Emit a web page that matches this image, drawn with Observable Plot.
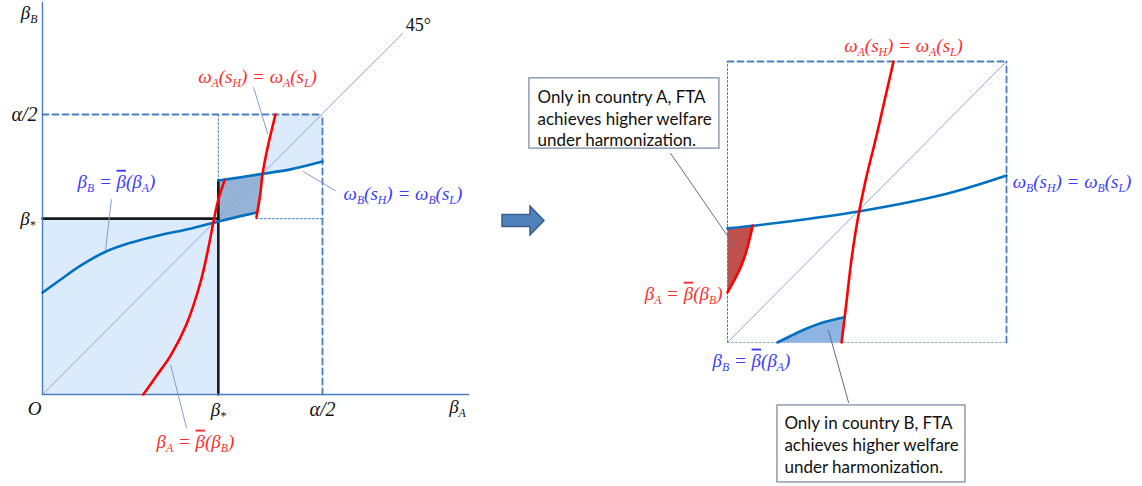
<!DOCTYPE html>
<html>
<head>
<meta charset="utf-8">
<script src="https://cdn.jsdelivr.net/npm/d3@7"></script>
<script src="https://cdn.jsdelivr.net/npm/@observablehq/plot@0.6"></script>
<style>
  html, body { margin: 0; padding: 0; background: #fff; }
  #stage { position: relative; width: 1142px; height: 486px; overflow: hidden; background: #fff; }
  #stage > svg.panel { position: absolute; top: 0; margin: 0; }
  #stage > svg.arrow { position: absolute; left: 500px; top: 204px; width: 46px; height: 33px; }
</style>
</head>
<body>
<div id="stage"></div>
<script>
// ---- Parameters (units: α = 1) ----
const alphaHalf = 0.5;
const betaStar = 0.314;

// ---- Full diagram: curves as [βA, βB] points ----
// βB = β̄(βA)
const bbarOfA = [[0, 0.182], [0.032, 0.205], [0.068, 0.230], [0.1125, 0.255], [0.157, 0.271], [0.211, 0.285], [0.264, 0.296], [0.314, 0.309], [0.382, 0.325]];
// βA = β̄(βB)
const bbarOfB = [[0.180, 0], [0.204, 0.034], [0.229, 0.070], [0.257, 0.125], [0.282, 0.200], [0.296, 0.261], [0.305, 0.307], [0.314, 0.348], [0.325, 0.382]];
// ωA(sH) = ωA(sL)
const omegaA = [[0.382, 0.316], [0.389, 0.359], [0.393, 0.394], [0.402, 0.441], [0.416, 0.5]];
// ωB(sH) = ωB(sL)
const omegaB = [[0.314, 0.382], [0.354, 0.388], [0.393, 0.394], [0.443, 0.402], [0.5, 0.416]];
// shaded regions
const darkRegion = [[0.314, 0.309], [0.314, 0.382], [0.354, 0.388], [0.393, 0.394], [0.389, 0.359], [0.383, 0.325], [0.341, 0.316]];
const upperRegion = [[0.393, 0.394], [0.402, 0.441], [0.416, 0.5], [0.5, 0.5], [0.5, 0.416], [0.443, 0.402]];

// ---- Enlarged box [β*, α/2]², normalised to [0, 1] ----
const zOmegaA = [[0.409, 0], [0.427, 0.149], [0.444, 0.292], [0.466, 0.434], [0.495, 0.577], [0.530, 0.719], [0.563, 0.861], [0.595, 1]];
const zOmegaB = [[0, 0.406], [0.190, 0.427], [0.470, 0.466], [0.789, 0.530], [1, 0.594]];
const zBbarOfB = [[0.090, 0.416], [0.080, 0.372], [0.066, 0.320], [0.047, 0.267], [0, 0.178]];
const zBbarOfA = [[0.179, 0], [0.226, 0.023], [0.280, 0.048], [0.341, 0.071], [0.420, 0.090]];
const zRegionA = [[0, 0.406], [0.090, 0.416], [0.080, 0.372], [0.066, 0.320], [0.047, 0.267], [0, 0.178]];
const zRegionB = [[0.179, 0], [0.226, 0.023], [0.280, 0.048], [0.341, 0.071], [0.420, 0.090], [0.409, 0]];

const calloutA = "Only in country A, FTA\nachieves higher welfare\nunder harmonization.";
const calloutB = "Only in country B, FTA\nachieves higher welfare\nunder harmonization.";

// ---- Styles ----
const RED = "#ff0000", BLUE = "#0070c0";
const RED_TXT = "#ff2d2d", BLUE_TXT = "#3b3bff";
const AXIS = "#4a7ebb", DIAG = "#8eaadb", LEADER = "#7f9fcf", LEADER2 = "#5b7090";
const LIGHT = "#dcebfb", DARK = "#95b3d7", REDFILL = "#c0504d", BLUEFILL = "#8db4e3";
const SERIF = "'Liberation Serif', 'Times New Roman', 'DejaVu Serif', serif";
const SANS = "Lato, 'Open Sans', sans-serif";
const MATH = 19;

const X = d => d[0], Y = d => d[1];
const curve = (data, stroke, w = 2.6) => Plot.line(data, {x: X, y: Y, stroke, strokeWidth: w, curve: "catmull-rom"});
const region = (data, fill) => Plot.line(data, {x: X, y: Y, fill, stroke: "none"});
const seg = (p, q, o) => Plot.line([p, q], {x: X, y: Y, ...o});
const label = (x, y, text, o = {}) => Plot.text([text], {x: () => x, y: () => y, text: d => d, fontFamily: SERIF, fontStyle: "italic", fontSize: MATH, ...o});

// Math labels: serif font, "_X" becomes a subscript, "β̄" gets an overbar
function typeset(svg, fs) {
  const ns = "http://www.w3.org/2000/svg";
  const shift = fs * 0.24;
  d3.select(svg).selectAll("text").each(function () {
    if (this.textContent.includes("country")) {
      this.style.fontFamily = SANS;
      return;
    }
    this.style.fontFamily = SERIF;
    if (this.querySelector("tspan")) return;
    const s = this.textContent;
    if (!/[_\u0304]/.test(s)) return;
    const re = /_(.)|(.)\u0304/g;
    const toks = [];
    let last = 0, m;
    while ((m = re.exec(s))) {
      if (m.index > last) toks.push({t: s.slice(last, m.index)});
      if (m[1] !== undefined) toks.push({t: m[1], sub: true});
      else toks.push({t: m[2], bar: true});
      last = re.lastIndex;
    }
    if (last < s.length) toks.push({t: s.slice(last)});
    this.textContent = "";
    let shifted = false;
    for (const k of toks) {
      const ts = document.createElementNS(ns, "tspan");
      ts.textContent = k.t;
      if (k.sub) {
        ts.setAttribute("font-size", fs * 0.62);
        ts.setAttribute("dy", shift);
        shifted = true;
      } else if (shifted) {
        ts.setAttribute("dy", -shift);
        shifted = false;
      }
      if (k.bar) ts.style.textDecoration = "overline";
      this.appendChild(ts);
    }
  });
  svg.classList.add("panel");
  return svg;
}

// ---- Left: full diagram ----
const left = Plot.plot({
  width: 480, height: 486,
  marginLeft: 42, marginRight: 18, marginTop: 2, marginBottom: 92,
  x: {domain: [0, 0.75], axis: null},
  y: {domain: [0, 0.7], axis: null},
  style: {background: "transparent", overflow: "visible"},
  marks: [
    Plot.rect([{x1: 0, x2: betaStar, y1: 0, y2: betaStar}], {x1: "x1", x2: "x2", y1: "y1", y2: "y2", fill: LIGHT}),
    region(upperRegion, LIGHT),
    region(darkRegion, DARK),
    seg([0, 0], [0.643, 0.645], {stroke: DIAG, strokeWidth: 1}),
    // α/2 box
    seg([0, alphaHalf], [alphaHalf, alphaHalf], {stroke: AXIS, strokeWidth: 1.8, strokeDasharray: "6,4"}),
    seg([alphaHalf, 0], [alphaHalf, alphaHalf], {stroke: AXIS, strokeWidth: 1.8, strokeDasharray: "6,4"}),
    seg([betaStar, 0.382], [betaStar, alphaHalf], {stroke: AXIS, strokeWidth: 1, strokeDasharray: "2,2"}),
    seg([0.382, betaStar], [alphaHalf, betaStar], {stroke: AXIS, strokeWidth: 1, strokeDasharray: "2,2"}),
    // β* lines
    seg([0, betaStar], [betaStar, betaStar], {stroke: "#1a1a1a", strokeWidth: 2.6}),
    seg([betaStar, 0], [betaStar, 0.382], {stroke: "#1a1a1a", strokeWidth: 2.6}),
    // axes
    seg([0, 0], [0.761, 0], {stroke: AXIS, strokeWidth: 1.4}),
    seg([0, 0], [0, 0.7], {stroke: AXIS, strokeWidth: 1.4}),
    // curves
    curve(bbarOfA, BLUE),
    curve(omegaB, BLUE),
    curve(bbarOfB, RED),
    curve(omegaA, RED),
    // leaders
    seg([0.377, 0.548], [0.402, 0.466], {stroke: LEADER, strokeWidth: 1}),
    seg([0.466, 0.398], [0.523, 0.364], {stroke: LEADER, strokeWidth: 1}),
    seg([0.123, 0.348], [0.1125, 0.257], {stroke: LEADER, strokeWidth: 1}),
    seg([0.229, 0.052], [0.257, -0.059], {stroke: LEADER, strokeWidth: 1}),
    // tick labels
    label(0, 0, "O", {dx: -8, dy: 14, fill: "#111"}),
    label(betaStar, 0, "β_*", {dy: 15, fill: "#111"}),
    label(alphaHalf, 0, "α/2", {dy: 15, fontSize: 20, fill: "#111"}),
    label(0.741, 0, "β_A", {dy: 12, fill: "#111"}),
    label(0, alphaHalf, "α/2", {dx: -5, textAnchor: "end", fontSize: 20, fill: "#111"}),
    label(0, betaStar, "β_*", {dx: -7, textAnchor: "end", fill: "#111"}),
    label(0, 0.682, "β_B", {dx: -5, textAnchor: "end", fill: "#111"}),
    label(0.671, 0.659, "45°", {fontStyle: "normal", fontSize: 18, fill: "#111"}),
    // curve labels
    label(0.384, 0.568, "ω_A(s_H) = ω_A(s_L)", {fill: RED_TXT}),
    label(0.5375, 0.359, "ω_B(s_H) = ω_B(s_L)", {textAnchor: "start", fill: BLUE_TXT}),
    label(0.132, 0.380, "β_B = β̄(β_A)", {fill: BLUE_TXT}),
    label(0.273, -0.084, "β_A = β̄(β_B)", {fill: RED_TXT})
  ]
});
left.style.left = "0px";

// ---- Right: enlarged box ----
const right = Plot.plot({
  width: 622, height: 486,
  marginLeft: 207, marginRight: 136, marginTop: 61, marginBottom: 144,
  x: {domain: [0, 1], axis: null},
  y: {domain: [0, 1], axis: null},
  style: {background: "transparent", overflow: "visible"},
  marks: [
    region(zRegionA, REDFILL),
    region(zRegionB, BLUEFILL),
    seg([0, 0], [1, 1], {stroke: DIAG, strokeWidth: 1}),
    seg([0, 1], [1, 1], {stroke: AXIS, strokeWidth: 1.8, strokeDasharray: "6,4"}),
    seg([1, 0], [1, 1], {stroke: AXIS, strokeWidth: 1.8, strokeDasharray: "6,4"}),
    seg([0, 0], [0, 1], {stroke: AXIS, strokeWidth: 1, strokeDasharray: "2,2"}),
    seg([0, 0], [1, 0], {stroke: "#8eb4e3", strokeWidth: 1.2, strokeDasharray: "2,2"}),
    curve(zOmegaB, BLUE),
    curve(zBbarOfA, BLUE),
    curve(zOmegaA, RED),
    curve(zBbarOfB, RED),
    // leaders
    seg([-0.204, 0.673], [0.029, 0.338], {stroke: LEADER2, strokeWidth: 1}),
    seg([0.362, 0.043], [0.434, -0.214], {stroke: LEADER2, strokeWidth: 1}),
    // curve labels
    label(0.631, 1.057, "ω_A(s_H) = ω_A(s_L)", {fill: RED_TXT}),
    label(1.022, 0.573, "ω_B(s_H) = ω_B(s_L)", {textAnchor: "start", fill: BLUE_TXT}),
    label(-0.018, 0.174, "β_A = β̄(β_B)", {textAnchor: "end", fill: RED_TXT}),
    label(0.086, -0.064, "β_B = β̄(β_A)", {fill: BLUE_TXT}),
    // callouts
    Plot.rect([{x1: -0.710, x2: -0.029, y1: 0.690, y2: 0.940}], {x1: "x1", x2: "x2", y1: "y1", y2: "y2", fill: "#fff", stroke: "#7f8fa9", strokeWidth: 1.3}),
    Plot.text([calloutA], {x: () => -0.681, y: () => 0.908, text: d => d, textAnchor: "start", lineAnchor: "top", lineHeight: 1.28, fontFamily: SANS, fontSize: 17, fill: "#111"}),
    Plot.rect([{x1: 0.179, x2: 0.853, y1: -0.498, y2: -0.224}], {x1: "x1", x2: "x2", y1: "y1", y2: "y2", fill: "#fff", stroke: "#7f8fa9", strokeWidth: 1.3}),
    Plot.text([calloutB], {x: () => 0.204, y: () => -0.253, text: d => d, textAnchor: "start", lineAnchor: "top", lineHeight: 1.28, fontFamily: SANS, fontSize: 17, fill: "#111"})
  ]
});
right.style.left = "520px";

const stage = document.getElementById("stage");
stage.appendChild(typeset(left, MATH));
stage.appendChild(typeset(right, MATH));

// block arrow between the panels
stage.insertAdjacentHTML("beforeend",
  `<svg class="arrow" viewBox="0 0 46 33"><path d="M2 10.5 H30 V2 L44 16.5 L30 31 V22.5 H2 Z" fill="#4f81bd" stroke="#385d8a" stroke-width="1.5"/></svg>`);
</script>
</body>
</html>
